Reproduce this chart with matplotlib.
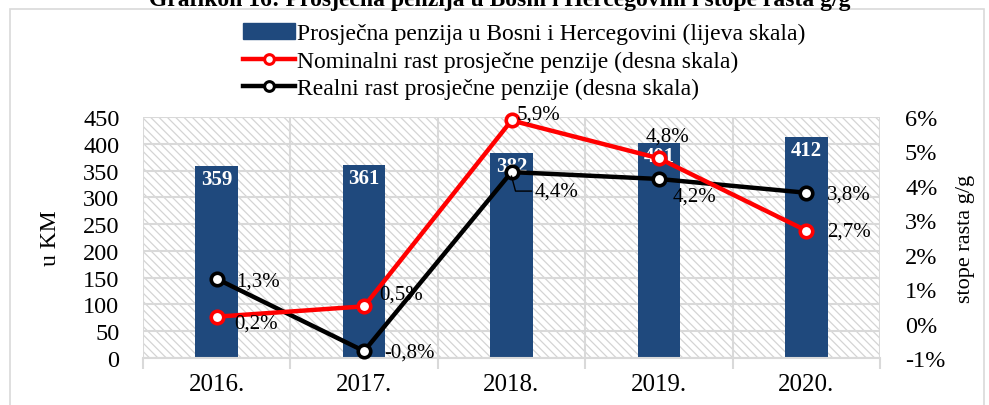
import matplotlib
matplotlib.use("Agg")
import matplotlib.pyplot as plt
from matplotlib.patches import Rectangle
from matplotlib.lines import Line2D
import numpy as np

plt.rcParams['font.family'] = ['Liberation Serif', 'DejaVu Serif']
plt.rcParams['hatch.color'] = '#d4d4d4'
plt.rcParams['hatch.linewidth'] = 0.9

years = ["2016.", "2017.", "2018.", "2019.", "2020."]
pension = [359, 361, 382, 401, 412]
nominal = [0.2, 0.5, 5.9, 4.8, 2.7]
real = [1.3, -0.8, 4.4, 4.2, 3.8]
left_ticks = [0, 50, 100, 150, 200, 250, 300, 350, 400, 450]
right_ticks = [-1, 0, 1, 2, 3, 4, 5, 6]

W, H = 989, 406
fig = plt.figure(figsize=(W / 100, H / 100), dpi=100)

# outer frame
fig.patches.append(Rectangle((10 / W, -0.1), (984 - 10) / W, (H - 10) / H + 0.1,
                             transform=fig.transFigure, fill=False,
                             edgecolor='#d9d9d9', linewidth=1.2))

ax = fig.add_axes([143 / W, (H - 359) / H, (880 - 143) / W, (359 - 118) / H])
x = np.arange(len(years))
ax.set_xlim(-0.5, len(years) - 0.5)
ax.set_ylim(0, 450)

# hatched background
ax.add_patch(Rectangle((0, 0), 1, 1, transform=ax.transAxes, facecolor='white',
                       hatch='\\\\\\\\', edgecolor='#d4d4d4', linewidth=0, zorder=0))
ax.set_yticks(left_ticks)
ax.yaxis.grid(True, color='#d9d9d9', linewidth=1.5, zorder=1)
for b in np.arange(-0.5, len(years), 1.0):
    ax.axvline(b, color='#d9d9d9', linewidth=1.5, zorder=1)
ax.set_axisbelow(True)

bars = ax.bar(x, pension, width=0.29, color='#1f497d', zorder=2)
for xi, v in zip(x, pension):
    ax.annotate(str(v), (xi, v), xytext=(0, -3), textcoords='offset pixels',
                ha='center', va='top', color='white', fontweight='bold',
                fontsize=15, zorder=3)

for s in ['top', 'right', 'left']:
    ax.spines[s].set_visible(False)
ax.spines['bottom'].set_color('#d9d9d9')
ax.spines['bottom'].set_linewidth(1.5)
ax.set_xticks(np.arange(-0.5, len(years), 1.0), minor=True)
ax.set_xticks(x)
ax.set_xticklabels(years, fontsize=18)
ax.tick_params(axis='x', which='major', length=0, pad=11)
ax.tick_params(axis='x', which='minor', length=8, color='#d9d9d9', width=1.5)
ax.tick_params(axis='y', length=0, labelsize=17.5, pad=17)
ax.set_ylabel("u KM", fontsize=17, labelpad=16)

ax2 = ax.twinx()
ax2.set_ylim(-1, 6)
ax2.set_yticks(right_ticks)
ax2.set_yticklabels([f"{t}%" for t in right_ticks], fontsize=17.5)
ax2.tick_params(axis='y', length=0, pad=18)
for s in ax2.spines.values():
    s.set_visible(False)
ax2.set_ylabel("stope rasta g/g", fontsize=16, labelpad=8)

ax2.plot(x, nominal, color='#ff0000', linewidth=3.2, marker='o', markersize=9,
         markerfacecolor='white', markeredgecolor='#ff0000', markeredgewidth=2.6,
         zorder=5, clip_on=False)
ax2.plot(x, real, color='black', linewidth=3.2, marker='o', markersize=9,
         markerfacecolor='white', markeredgecolor='black', markeredgewidth=2.6,
         zorder=4, clip_on=False)

def fmt(v):
    return f"{v:.1f}%".replace('.', ',')

nom_off = [(18, -6, 'left'), (15, 12, 'left'), (5, 6, 'left'), (9, 22, 'center'), (21, 0, 'left')]
real_off = [(19, -2, 'left'), (20, -1, 'left'), (23, -19, 'left'), (14, -17, 'left'), (21, -1, 'left')]
for xi, v, (dx, dy, ha) in zip(x, nominal, nom_off):
    ax2.annotate(fmt(v), (xi, v), xytext=(dx, dy), textcoords='offset pixels',
                 ha=ha, va='center', fontsize=15, zorder=6)
for xi, v, (dx, dy, ha) in zip(x, real, real_off):
    ax2.annotate(fmt(v), (xi, v), xytext=(dx, dy), textcoords='offset pixels',
                 ha=ha, va='center', fontsize=15, zorder=6)

# leader line for 4,4% label
p = ax2.transData.transform((x[2], real[2]))
inv = fig.transFigure.inverted()
pts = [p + np.array([0, -4]), p + np.array([4, -19]), p + np.array([20, -19])]
fpts = inv.transform(np.array(pts))
fig.add_artist(Line2D(fpts[:, 0], fpts[:, 1], color='black', linewidth=1))

handles = [Rectangle((0, 0), 1, 1, color='#1f497d'),
           Line2D([], [], color='#ff0000', linewidth=3.2, marker='o', markersize=7,
                  markerfacecolor='white', markeredgecolor='#ff0000', markeredgewidth=2.2),
           Line2D([], [], color='black', linewidth=3.2, marker='o', markersize=7,
                  markerfacecolor='white', markeredgecolor='black', markeredgewidth=2.2)]
labels = ["Prosječna penzija u Bosni i Hercegovini (lijeva skala)",
          "Nominalni rast prosječne penzije (desna skala)",
          "Realni rast prosječne penzije (desna skala)"]
fig.legend(handles, labels, loc='upper left', bbox_to_anchor=(243 / W, 1 - 24 / H),
           frameon=False, fontsize=17, handlelength=2.2, handleheight=0.65,
           handletextpad=0.08, labelspacing=0.27, borderaxespad=0, borderpad=0)

fig.text(500 / W, 1 - 6 / H, "Grafikon 16: Prosječna penzija u Bosni i Hercegovini i stope rasta g/g",
         ha='center', va='baseline', fontsize=17, fontweight='bold')

fig.savefig("out.png", dpi=100)
